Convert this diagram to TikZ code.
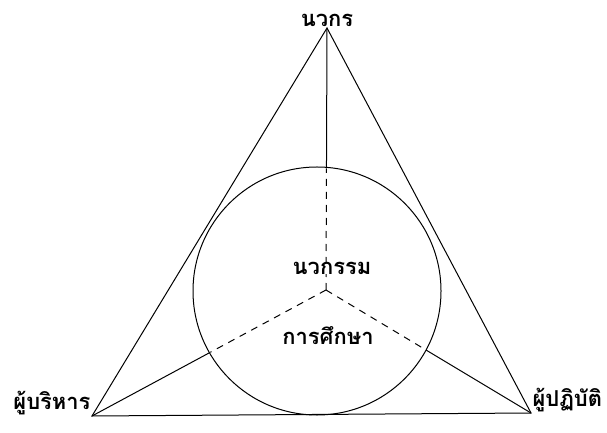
\documentclass[tikz,border=0pt]{standalone}
\usepackage{fontspec}
\newfontfamily\thaifont[Script=Thai]{Loma}
\usetikzlibrary{positioning}

\begin{document}
\begin{tikzpicture}[x=1bp,y=-1bp,line width=1bp,
    thailabel/.style={font=\thaifont\bfseries\fontsize{22}{26}\selectfont,inner sep=1bp},
    spoke/.style={dashed,dash pattern=on 7bp off 6bp}]
  \useasboundingbox (0,0) rectangle (607,433);
  % Corners and hub
  \coordinate (apex) at (327,28);
  \coordinate (west) at (92,416);
  \coordinate (east) at (531,413);
  \coordinate (hub) at (326,290);
  % Spokes, solid outside the circle
  \draw (hub) -- (apex);
  \draw (hub) -- (west);
  \draw (hub) -- (east);
  % Circle in the middle
  \node[draw,fill=white,circle,minimum size=248bp,inner sep=0pt] (ring) at (317,291) {};
  % Spokes, dashed inside the circle
  \begin{scope}
    \clip (317,291) circle[radius=123bp];
    \draw[spoke] (hub) -- (apex);
    \draw[spoke] (hub) -- (west);
    \draw[spoke] (hub) -- (east);
  \end{scope}
  % Triangle
  \draw (apex) -- (west) -- (east) -- cycle;
  % Labels
  \node[thailabel,above=0bp of apex] (tlabel) {นวกร};
  \node[thailabel,anchor=south east] (wlabel) at (west) {ผู้บริหาร};
  \node[thailabel,anchor=south west] (elabel) at (east) {ผู้ปฏิบัติ};
  \node[thailabel,fill=white,inner sep=0pt] (inno) at (332,268) {นวกรรม};
  \node[thailabel,fill=white,inner sep=0pt] (edu) at (328,336) {การศึกษา};
\end{tikzpicture}
\end{document}
